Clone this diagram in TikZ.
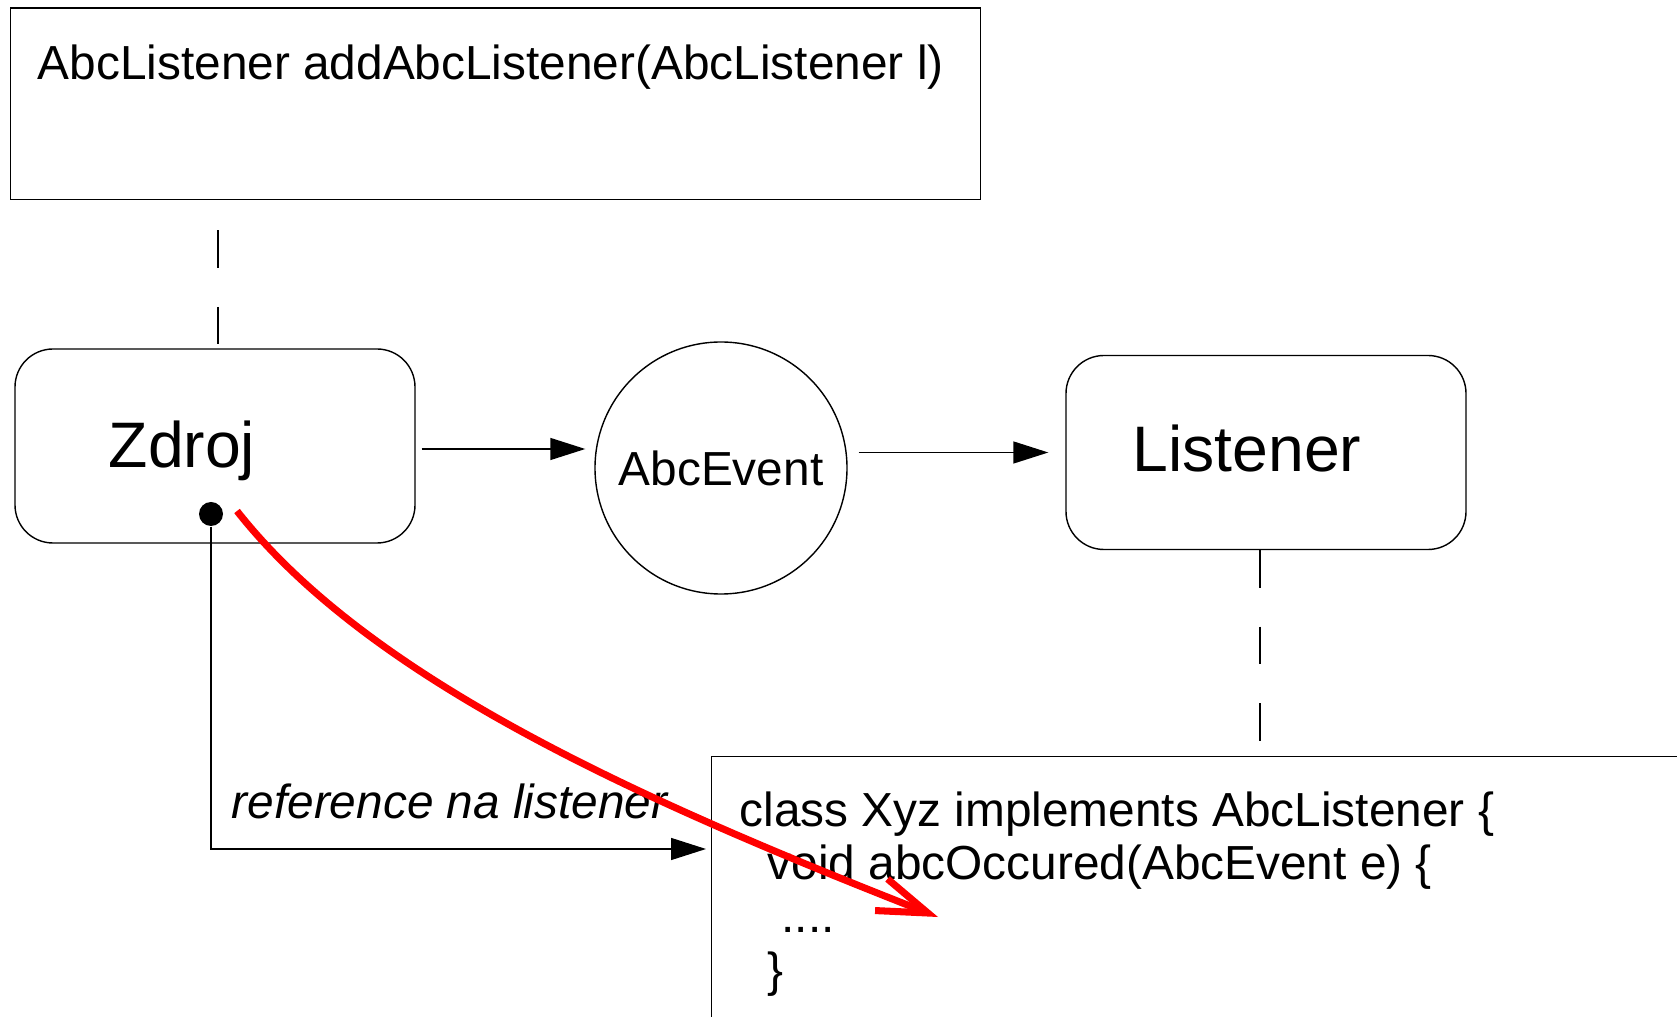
\documentclass[tikz,border=0pt]{standalone}
\usepackage{fontspec}
\setmainfont{Liberation Sans}
\usetikzlibrary{arrows.meta,positioning,calc}

\begin{document}
\begin{tikzpicture}[
  x=1cm,y=1cm,
  box/.style={draw, rounded corners=0.38cm, minimum width=4cm, minimum height=1.94cm, inner sep=0pt},
  plainbox/.style={draw, anchor=north west, inner sep=0pt},
  txt/.style={font=\fontsize{13.6}{15.1}\selectfont, inner sep=0pt},
  bigtxt/.style={font=\fontsize{18.3}{22}\selectfont, inner sep=0pt},
  arr/.style={-{Triangle[length=0.35cm,width=0.22cm]}},
  dashln/.style={dash pattern=on 0.375cm off 0.39cm},
  redarr/.style={red, line width=2pt, -{Straight Barb[length=0.5cm,width=0.34cm]}}
]
\useasboundingbox (0,0) rectangle (16.77,-10.17);
% top: registration method
\node[plainbox, minimum width=9.70cm, minimum height=1.915cm] (addbox) at (0.10,-0.075) {};
\node[txt, anchor=base west] (addtext) at (0.37,-0.80) {AbcListener addAbcListener(AbcListener l)};
% middle row
\node[box] (zdroj) at (2.15,-4.46) {};
\node[bigtxt, anchor=base] (zdrojtext) at (1.82,-4.68) {Zdroj};
\node[draw, circle, minimum size=2.52cm, txt] (event) at (7.21,-4.68) {AbcEvent};
\node[box] (listener) at (12.66,-4.525) {};
\node[bigtxt, anchor=base] (listenertext) at (12.47,-4.72) {Listener};
\node[circle, fill=black, minimum size=0.24cm, inner sep=0pt] (dot) at (2.11,-5.14) {};
% bottom: listener class
\node[plainbox, minimum width=10cm, minimum height=3cm] (classbox) at (7.11,-7.56) {};
\node[txt, anchor=base west, align=left] (code) at (7.39,-9.86) {class Xyz implements AbcListener \{\\
\hspace*{0.28cm}void abcOccured(AbcEvent e) \{\\
\hspace*{0.42cm}....\\
\hspace*{0.28cm}\}};
\node[txt, anchor=base west] (reflabel) at (2.31,-8.18) {\itshape reference na listener};
% connectors
\draw[dashln, dash phase=0.465cm] ([xshift=0.03cm]zdroj.north |- addbox.south) -- ([xshift=0.03cm]zdroj.north);
\draw[dashln] ([xshift=-0.06cm]listener.south) -- ([xshift=-0.06cm]listener.south |- classbox.north);
\draw[arr, shorten <=0.06cm, shorten >=0.09cm] ([yshift=-0.03cm]zdroj.east) -- ([yshift=-0.03cm]zdroj.east -| event.west);
\draw[arr, shorten <=0.11cm, shorten >=0.17cm] (event.east |- listener.west) -- (listener.west);
\draw[arr, shorten >=0.05cm] (dot) |- ([yshift=-0.93cm]classbox.north west);
\coordinate (redstart) at (2.37,-5.11);
\coordinate (redend) at (9.38,-9.17);
\draw[redarr] (redstart) .. controls (3.70,-6.80) and (6.40,-8.00) .. (redend);
\end{tikzpicture}
\end{document}
